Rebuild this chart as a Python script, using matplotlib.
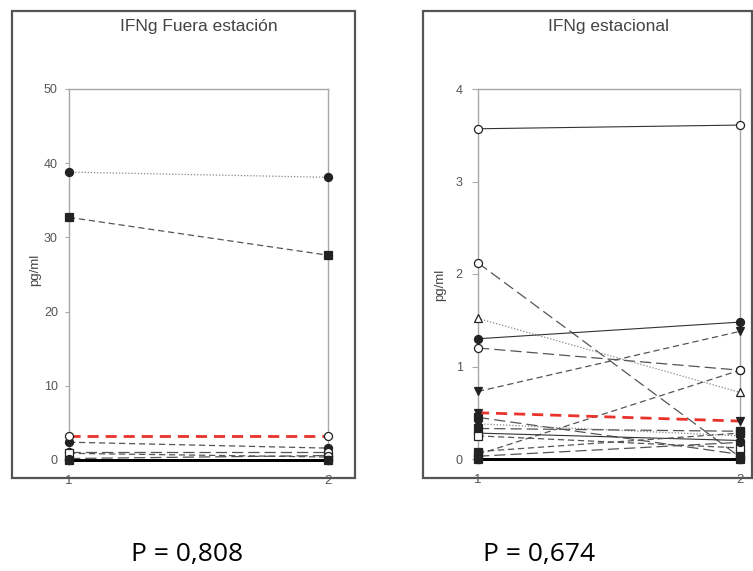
import matplotlib
matplotlib.use("Agg")
import matplotlib.pyplot as plt
from matplotlib.patches import Rectangle

plt.rcParams['font.family'] = ['Liberation Sans', 'DejaVu Sans']

# Time points
times = [1, 2]

# IFNg out of season (pg/ml) at visits 1 and 2
fuera_t1 = [38.8, 32.7, 3.3, 2.4, 1.1, 0.9, 0.2, 0.0, 0.0, 0.0]
fuera_t2 = [38.1, 27.6, 3.3, 1.6, 1.1, 0.4, 0.6, 0.0, 0.0, 0.0]
fuera_style = [
    ('dotted', 'o', 'full'), ('dashed', 's', 'full'), ('red', 'o', 'none'),
    ('dashed', 'o', 'full'), ('longdash', 'o', 'none'), ('dashed', 's', 'none'),
    ('longdash', 'o', 'none'), ('solid0', 'o', 'none'), ('solid0', 'o', 'full'),
    ('solid0', 's', 'full'),
]

# IFNg in season (pg/ml) at visits 1 and 2
estac_t1 = [3.57, 2.12, 1.52, 1.30, 1.20, 0.73, 0.50, 0.05, 0.45, 0.38,
            0.33, 0.28, 0.25, 0.08, 0.03, 0.0, 0.0, 0.0]
estac_t2 = [3.61, 0.02, 0.72, 1.48, 0.96, 1.38, 0.41, 0.96, 0.05, 0.25,
            0.30, 0.20, 0.12, 0.28, 0.18, 0.0, 0.0, 0.0]
estac_style = [
    ('solid', 'o', 'none'), ('longdash', 'o', 'none'), ('dotted', '^', 'none'),
    ('solid', 'o', 'full'), ('longdash', 'o', 'none'), ('dashed', 'v', 'full'),
    ('red', 'v', 'full'), ('dashed', 'o', 'none'), ('longdash', 's', 'full'),
    ('dotted', 'v', 'full'), ('longdash', 's', 'full'), ('solid', 'o', 'full'),
    ('dashed', 's', 'none'), ('dashed', 's', 'full'), ('longdash', 'o', 'full'),
    ('solid0', 'o', 'none'), ('solid0', 'o', 'full'), ('solid0', 's', 'full'),
]

GRID = '#a8a8a8'
TXT = '#555555'


def line_kw(kind):
    if kind == 'red':
        return dict(color='#e8322a', lw=2.0, dashes=(4, 2.5), zorder=4)
    if kind == 'solid0':
        return dict(color='black', lw=1.8, ls='-', zorder=3)
    if kind == 'solid':
        return dict(color='#333333', lw=0.8, ls='-', zorder=3)
    if kind == 'dotted':
        return dict(color='#888888', lw=0.9, ls=(0, (1, 1.5)), zorder=3)
    if kind == 'longdash':
        return dict(color='#555555', lw=0.9, dashes=(9, 4), zorder=3)
    return dict(color='#555555', lw=0.9, dashes=(5, 3), zorder=3)


def draw_panel(ax, t1, t2, styles, ymax, yticks, title, title_x, ylabel_x,
               ylabel_y, p_text, p_x, ypad, ylen):
    for a, b, (kind, mk, fill) in zip(t1, t2, styles):
        kw = line_kw(kind)
        mcol = '#222222'
        ax.plot(times, [a, b], marker=mk, ms=5.8, mew=0.9, mec=mcol,
                mfc=(mcol if fill == 'full' else 'white'), clip_on=False, **kw)
    ax.set_xlim(1, 2)
    ax.set_ylim(0, ymax)
    ax.set_yticks(yticks)
    ax.set_xticks(times)
    for s in ax.spines.values():
        s.set_color(GRID)
        s.set_linewidth(1.0)
    ax.spines['bottom'].set_visible(False)
    ax.tick_params(axis='y', length=ylen, width=0.8, color=GRID, labelsize=9,
                   labelcolor=TXT, pad=ypad)
    ax.tick_params(axis='x', length=0, labelsize=9.5, labelcolor=TXT, pad=11)
    fig.text(title_x, 1 - 27 / 571, title, ha='center', va='center',
             fontsize=12.5, color='#444444')
    fig.text(ylabel_x, ylabel_y, 'pg/ml', rotation=90, ha='center',
             va='center', fontsize=9.5, color='#444444')
    fig.text(p_x, 1 - 555 / 571, p_text, ha='center', va='center',
             fontsize=19, color='black', family=['Open Sans', 'DejaVu Sans'])


W, H = 753, 571
fig = plt.figure(figsize=(W / 100, H / 100), dpi=100)

# Framing boxes around each panel
for x0, x1 in [(12, 355), (423, 752)]:
    fig.patches.append(Rectangle((x0 / W, 1 - 478 / H), (x1 - x0) / W,
                                 (478 - 11) / H, transform=fig.transFigure,
                                 fill=False, ec='#555555', lw=1.6))

ax1 = fig.add_axes([69 / W, 1 - 460 / H, (328 - 69) / W, (460 - 89) / H])
draw_panel(ax1, fuera_t1, fuera_t2, fuera_style, 50, [0, 10, 20, 30, 40, 50],
           'IFNg Fuera estación', 199 / W, 35 / W, 1 - 270 / H,
           'P = 0,808', 187 / W, 5, 3)

ax2 = fig.add_axes([478 / W, 1 - 459 / H, (740 - 478) / W, (459 - 89) / H])
draw_panel(ax2, estac_t1, estac_t2, estac_style, 4, [0, 1, 2, 3, 4],
           'IFNg estacional', 609 / W, 440 / W, 1 - 285 / H,
           'P = 0,674', 539 / W, 6.5, 4.5)

fig.savefig('out.png', dpi=100)
